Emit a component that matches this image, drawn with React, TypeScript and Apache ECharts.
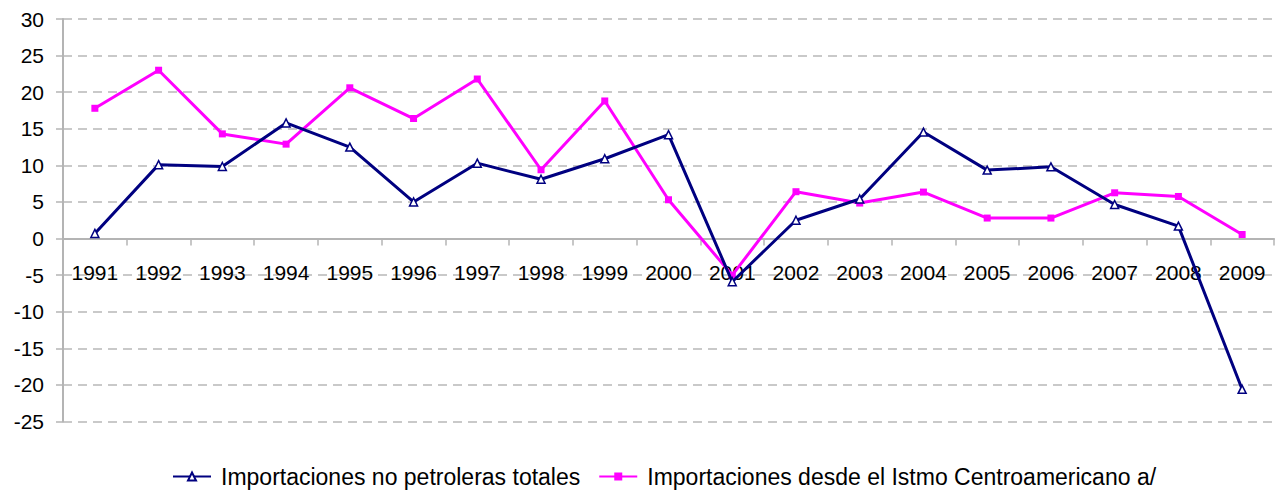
import React, { useEffect, useRef } from "react";
import * as echarts from "echarts";

const years = ["1991","1992","1993","1994","1995","1996","1997","1998","1999","2000","2001","2002","2003","2004","2005","2006","2007","2008","2009"];
const totales = [0.7, 10.1, 9.85, 15.8, 12.5, 5.0, 10.3, 8.1, 10.9, 14.2, -5.9, 2.5, 5.4, 14.55, 9.35, 9.8, 4.65, 1.7, -20.6];
const istmo = [17.8, 23.0, 14.3, 12.9, 20.6, 16.4, 21.8, 9.4, 18.8, 5.3, -5.0, 6.4, 4.85, 6.35, 2.8, 2.8, 6.25, 5.75, 0.55];
const seriesNames = ["Importaciones no petroleras totales", "Importaciones desde el Istmo Centroamericano a/"];
const yMin = -25;
const yMax = 30;

export default function App() {
  const ref = useRef<HTMLDivElement>(null);
  useEffect(() => {
    if (!ref.current) return;
    const chart = echarts.init(ref.current, null, { renderer: "svg" });
    const font = "Liberation Sans, Arial, sans-serif";
    const gridTop = 19;
    const gridBottomPx = 421.5;
    const zeroOffset = -((gridBottomPx - gridTop) * (0 - yMin)) / (yMax - yMin);
    chart.setOption({
      animation: false,
      backgroundColor: "#ffffff",
      textStyle: { fontFamily: font },
      grid: { left: 63, right: 6, top: gridTop, bottom: 495 - gridBottomPx, containLabel: false },
      legend: {
        bottom: 2,
        left: 167,
        itemWidth: 38,
        itemHeight: 10,
        itemGap: 18,
        textStyle: { fontSize: 23, color: "#000", fontFamily: font, padding: [0, 0, 0, 5] },
        data: seriesNames,
      },
      xAxis: {
        type: "category",
        data: years,
        boundaryGap: true,
        position: "bottom",
        offset: zeroOffset,
        axisLine: { onZero: false, lineStyle: { color: "#b4b4b4", width: 2 } },
        axisTick: { show: true, length: 7, lineStyle: { color: "#b4b4b4", width: 1.5 } },
        axisLabel: { color: "#000", fontSize: 21, margin: 23, fontFamily: font, interval: 0 },
        splitLine: { show: false },
      },
      yAxis: {
        type: "value",
        min: yMin,
        max: yMax,
        interval: 5,
        axisLine: { show: true, lineStyle: { color: "#b4b4b4", width: 2 } },
        axisTick: { show: true, length: 7, lineStyle: { color: "#b4b4b4", width: 1.5 } },
        axisLabel: { color: "#000", fontSize: 21, margin: 19, fontFamily: font },
        splitLine: { show: true, lineStyle: { color: "#b8b8b8", type: [9, 6], width: 1.5 } },
      },
      series: [
        {
          name: seriesNames[0],
          type: "line",
          data: totales,
          color: "#000080",
          lineStyle: { color: "#000080", width: 3 },
          symbol: "triangle",
          symbolSize: 8,
          itemStyle: { color: "#ffffff", borderColor: "#000080", borderWidth: 1.5 },
          z: 3,
        },
        {
          name: seriesNames[1],
          type: "line",
          data: istmo,
          color: "#ff00ff",
          lineStyle: { color: "#ff00ff", width: 3 },
          symbol: "rect",
          symbolSize: 7,
          itemStyle: { color: "#ff00ff", borderColor: "#ff00ff", borderWidth: 0 },
          z: 2,
        },
      ],
    });
    return () => chart.dispose();
  }, []);
  return <div ref={ref} style={{ width: 1280, height: 495, position: "absolute", left: 0, top: 0 }} />;
}
